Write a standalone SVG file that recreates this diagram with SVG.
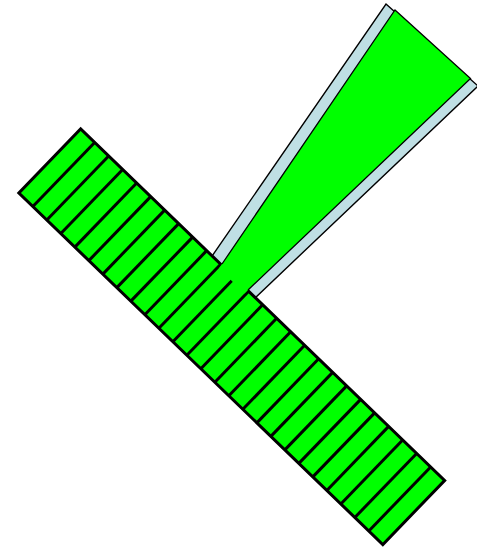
<svg xmlns="http://www.w3.org/2000/svg" width="477" height="551" viewBox="0 0 477 551">
<style>
.blue{fill:#bfdfe4;stroke:#000;stroke-width:1.4;stroke-linejoin:miter}
.bar{fill:#00ff00;stroke:#000;stroke-width:3;stroke-linejoin:miter}
.stripe{stroke:#000;stroke-width:3}
.green{fill:#00ff00;stroke:none}
.edge{fill:none;stroke:#000;stroke-width:1.3;stroke-linejoin:miter}
</style>
<rect width="477" height="551" fill="#fff"/>
<g id="wedge-frame">
<polygon class="blue" points="386,4 478,86 247.5,305.1 205.4,265.7"/>
</g>
<g id="bar" transform="translate(231.75,336.75) rotate(44)">
<rect class="bar" x="-253" y="-44.5" width="506" height="89"/>
<g id="stripes">
<line class="stripe" x1="-233.54" y1="-44.5" x2="-233.54" y2="44.5"/>
<line class="stripe" x1="-214.08" y1="-44.5" x2="-214.08" y2="44.5"/>
<line class="stripe" x1="-194.62" y1="-44.5" x2="-194.62" y2="44.5"/>
<line class="stripe" x1="-175.15" y1="-44.5" x2="-175.15" y2="44.5"/>
<line class="stripe" x1="-155.69" y1="-44.5" x2="-155.69" y2="44.5"/>
<line class="stripe" x1="-136.23" y1="-44.5" x2="-136.23" y2="44.5"/>
<line class="stripe" x1="-116.77" y1="-44.5" x2="-116.77" y2="44.5"/>
<line class="stripe" x1="-97.31" y1="-44.5" x2="-97.31" y2="44.5"/>
<line class="stripe" x1="-77.85" y1="-44.5" x2="-77.85" y2="44.5"/>
<line class="stripe" x1="-58.38" y1="-44.5" x2="-58.38" y2="44.5"/>
<line class="stripe" x1="-38.92" y1="-44.5" x2="-38.92" y2="44.5"/>
<line class="stripe" x1="-19.46" y1="-44.5" x2="-19.46" y2="44.5"/>
<line class="stripe" x1="0" y1="-44.5" x2="0" y2="44.5"/>
<line class="stripe" x1="19.46" y1="-44.5" x2="19.46" y2="44.5"/>
<line class="stripe" x1="38.92" y1="-44.5" x2="38.92" y2="44.5"/>
<line class="stripe" x1="58.38" y1="-44.5" x2="58.38" y2="44.5"/>
<line class="stripe" x1="77.85" y1="-44.5" x2="77.85" y2="44.5"/>
<line class="stripe" x1="97.31" y1="-44.5" x2="97.31" y2="44.5"/>
<line class="stripe" x1="116.77" y1="-44.5" x2="116.77" y2="44.5"/>
<line class="stripe" x1="136.23" y1="-44.5" x2="136.23" y2="44.5"/>
<line class="stripe" x1="155.69" y1="-44.5" x2="155.69" y2="44.5"/>
<line class="stripe" x1="175.15" y1="-44.5" x2="175.15" y2="44.5"/>
<line class="stripe" x1="194.62" y1="-44.5" x2="194.62" y2="44.5"/>
<line class="stripe" x1="214.08" y1="-44.5" x2="214.08" y2="44.5"/>
<line class="stripe" x1="233.54" y1="-44.5" x2="233.54" y2="44.5"/>
</g>
</g>
<g id="wedge">
<polygon class="green" points="395,10 470.5,78.5 244.4,293.4 219.1,268.2"/>
<polyline class="edge" points="222,264 395,10 470.5,78.5 248,290"/>
</g>
</svg>
